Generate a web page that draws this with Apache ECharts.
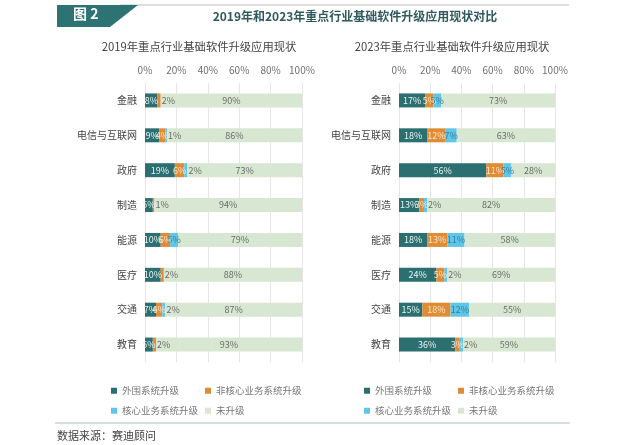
<!DOCTYPE html>
<html><head><meta charset="utf-8">
<script src="https://cdn.jsdelivr.net/npm/echarts@6/dist/echarts.min.js"></script>
<style>html,body{margin:0;padding:0;background:#fff}#c{width:626px;height:445px}</style>
</head><body><div id="c"></div>
<script>
var categories = ['金融','电信与互联网','政府','制造','能源','医疗','交通','教育'];
var seriesNames = ['外围系统升级','非核心业务系统升级','核心业务系统升级','未升级'];
var peripheral2019 = [8,9,19,5,10,10,7,5];
var nonCore2019 = [2,4,6,1,6,2,4,2];
var core2019 = [0,1,2,0,5,0,2,0];
var notUpgraded2019 = [90,86,73,94,79,88,87,93];
var peripheral2023 = [17,18,56,13,18,24,15,36];
var nonCore2023 = [5,12,11,3,13,5,18,3];
var core2023 = [5,7,5,2,11,2,12,2];
var notUpgraded2023 = [73,63,28,82,58,69,55,59];
var xTicks = [0,20,40,60,80,100];

var colors = ['#2b6f70','#e08c35','#5ec6e8','#d8e7d2'];
var labelColors = ['#e9f3f3','#fbe6cf','#3c7d96','#6b6b6b'];
var FONT = '"Noto Sans CJK SC","Noto Sans",sans-serif';

function mkData(arr){
  return arr.map(function(v){
    var d = {value: v};
    if (v > 0 && v <= 2) d.label = {position: 'right', distance: 1, color: '#6b6b6b'};
    return d;
  });
}
function mkSeries(arrs, axisIdx){
  return arrs.map(function(arr, i){
    return {
      name: seriesNames[i], type: 'bar', stack: 's' + axisIdx,
      xAxisIndex: axisIdx, yAxisIndex: axisIdx, barWidth: 14,
      itemStyle: {color: colors[i]},
      label: {show: true, position: 'inside', fontSize: 9, color: labelColors[i], fontFamily: FONT,
        formatter: function(p){ return p.value > 0 ? p.value + '%' : ''; }},
      data: mkData(arr)
    };
  });
}
var grids = [{left:145, width:157, top:83, height:279},{left:399, width:156, top:83, height:279}];
function xAx(g){
  return {type:'value', gridIndex:g, min:xTicks[0], max:xTicks[xTicks.length-1], interval:20, position:'top',
    axisLine:{show:false}, axisTick:{show:false},
    axisLabel:{fontSize:10, color:'#6f6f6f', margin:8, fontFamily:FONT, formatter:'{value}%'},
    splitLine:{lineStyle:{color:'#e6e6e6'}}};
}
function yAx(g){
  return {type:'category', gridIndex:g, data:categories, inverse:true,
    axisLine:{show:false}, axisTick:{show:false},
    axisLabel:{fontSize:10, color:'#444', margin:8, fontFamily:FONT}};
}
var legends = [];
var legendPos = [[{x:106,y:381},{x:200,y:381},{x:106,y:401},{x:200,y:401}],
                 [{x:359,y:381},{x:453,y:381},{x:359,y:401},{x:453,y:401}]];
legendPos.forEach(function(side){
  side.forEach(function(p, i){
    legends.push({data:[seriesNames[i]], left:p.x, top:p.y, itemWidth:6, itemHeight:6, itemGap:4,
      icon:'rect', selectedMode:false,
      textStyle:{fontSize:9.5, color:'#777', fontFamily:FONT}});
  });
});

var chart = echarts.init(document.getElementById('c'), null, {renderer:'canvas'});
chart.setOption({
  animation:false,
  grid: grids,
  xAxis: [xAx(0), xAx(1)],
  yAxis: [yAx(0), yAx(1)],
  legend: legends,
  series: mkSeries([peripheral2019, nonCore2019, core2019, notUpgraded2019], 0)
    .concat(mkSeries([peripheral2023, nonCore2023, core2023, notUpgraded2023], 1)),
  graphic: [
    {type:'line', shape:{x1:120, y1:5, x2:569, y2:5}, style:{stroke:'#d3d3d3', lineWidth:1.5}},
    {type:'polygon', shape:{points:[[57,5],[138,5],[110,27],[57,27]]}, style:{fill:'#2e7374'}},
    {type:'text', left:73, top:7, style:{text:'图 2', fill:'#fff', font:'bold 14px ' + FONT}},
    {type:'text', x:355, y:16, style:{text:'2019年和2023年重点行业基础软件升级应用现状对比', fill:'#2f5a5e',
      font:'bold 12px ' + FONT, textAlign:'center', textVerticalAlign:'middle'}},
    {type:'text', x:199, y:47, style:{text:'2019年重点行业基础软件升级应用现状', fill:'#444',
      font:'11.3px ' + FONT, textAlign:'center', textVerticalAlign:'middle'}},
    {type:'text', x:452, y:47, style:{text:'2023年重点行业基础软件升级应用现状', fill:'#444',
      font:'11.3px ' + FONT, textAlign:'center', textVerticalAlign:'middle'}},
    {type:'line', shape:{x1:55, y1:423, x2:570, y2:423}, style:{stroke:'#c9d3d3', lineWidth:1.5}},
    {type:'text', x:57, y:436, style:{text:'数据来源：赛迪顾问', fill:'#444', font:'11px ' + FONT,
      textVerticalAlign:'middle'}}
  ]
});
</script></body></html>
